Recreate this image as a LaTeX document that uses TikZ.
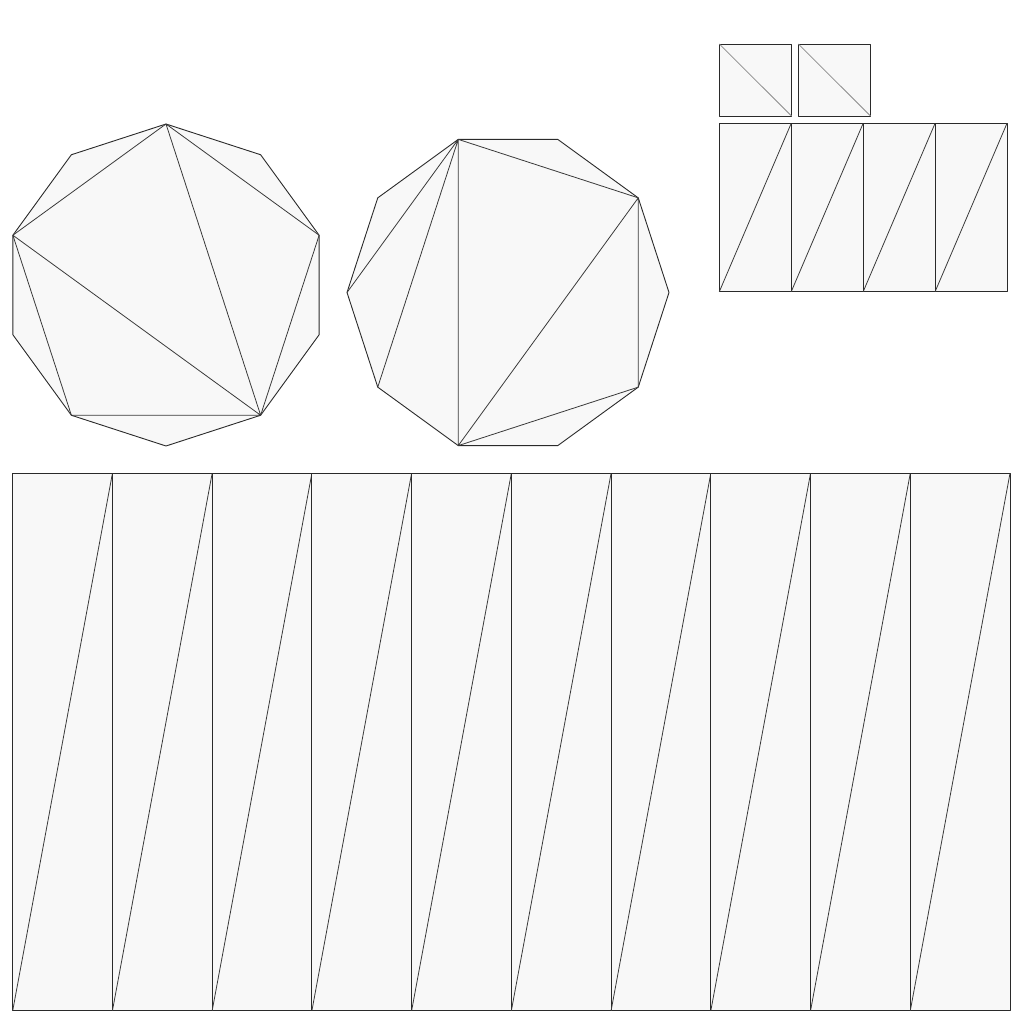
\documentclass[tikz,border=0pt]{standalone}
\usepackage{tikz}
\definecolor{meshfill}{HTML}{F8F8F8}
\definecolor{meshline}{HTML}{2A2A2A}
\definecolor{diagline}{HTML}{3A3A3A}
\tikzset{
  face/.style={fill=meshfill, draw=meshline, line width=0.9pt, line join=round},
  diag/.style={draw=diagline, line width=0.8pt},
  lightdiag/.style={draw=black!45, line width=0.8pt}
}
\begin{document}
\begin{tikzpicture}[x=1pt,y=-1pt]
\useasboundingbox (0,0) rectangle (1024,1024);
% decagon 1
\foreach \k in {0,...,9}
  \coordinate (a\k) at ({166+161*cos(90+36*\k)},{285-161*sin(90+36*\k)});
\draw[face] (a0)--(a1)--(a2)--(a3)--(a4)--(a5)--(a6)--(a7)--(a8)--(a9)--cycle;
\draw[diag] (a0)--(a2) (a0)--(a8) (a0)--(a6) (a2)--(a6) (a2)--(a4) (a6)--(a8) (a4)--(a6);
% decagon 2
\foreach \k in {0,...,9}
  \coordinate (b\k) at ({508+161*cos(36*\k)},{292.5-161*sin(36*\k)});
\draw[face] (b0)--(b1)--(b2)--(b3)--(b4)--(b5)--(b6)--(b7)--(b8)--(b9)--cycle;
\draw[diag] (b3)--(b5) (b3)--(b6) (b3)--(b7) (b3)--(b1) (b1)--(b7) (b1)--(b9) (b7)--(b9);
% small squares
\foreach \i/\x in {1/719.3,2/798.3}{
  \coordinate (s\i tl) at (\x,44);
  \coordinate (s\i br) at (\x+72.2,116);
  \draw[face] (s\i tl) rectangle (s\i br);
  \draw[lightdiag] (s\i tl)--(s\i br);
}
% four rectangles
\foreach \i in {0,...,3}{
  \coordinate (r\i bl) at ({719.3+71.925*\i},291.7);
  \coordinate (r\i tr) at ({719.3+71.925*(\i+1)},123.3);
  \draw[face] (r\i bl) rectangle (r\i tr);
  \draw[diag] (r\i bl)--(r\i tr);
}
% bottom strip
\foreach \i in {0,...,9}{
  \coordinate (c\i bl) at ({12.7+99.73*\i},1010.7);
  \coordinate (c\i tr) at ({12.7+99.73*(\i+1)},473.3);
  \draw[face] (c\i bl) rectangle (c\i tr);
  \draw[diag] (c\i bl)--(c\i tr);
}
\end{tikzpicture}
\end{document}
